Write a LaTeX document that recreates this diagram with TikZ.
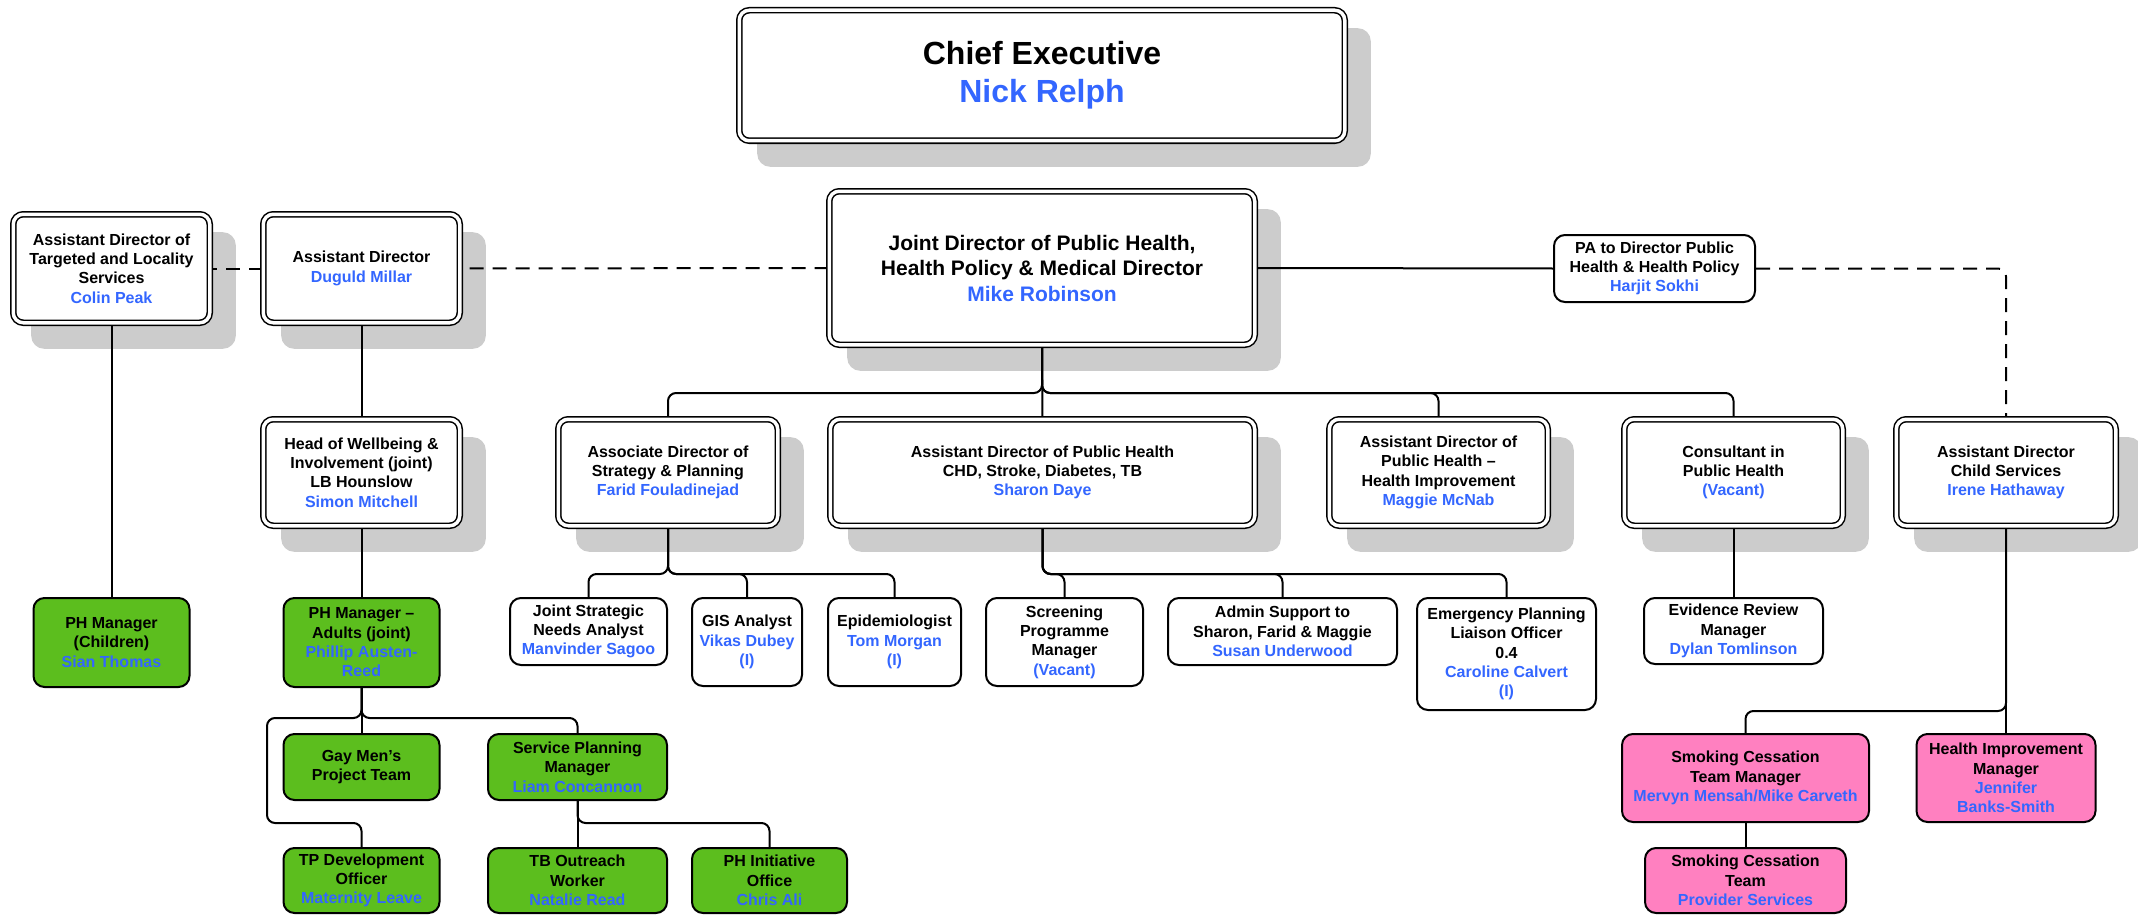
\documentclass[tikz,border=0pt]{standalone}
\usepackage{fontspec}
\setmainfont{Liberation Sans}
\usetikzlibrary{calc}
\pgfdeclarelayer{shadowlayer}
\pgfdeclarelayer{connlayer}
\pgfsetlayers{shadowlayer,connlayer,main}
\definecolor{nameblue}{RGB}{51,102,255}
\definecolor{boxgreen}{RGB}{92,190,30}
\definecolor{boxpink}{RGB}{255,128,192}
\definecolor{shadowgrey}{RGB}{204,204,204}
\newcommand\pname[1]{\textcolor{nameblue}{#1}}
\newcommand\shadowof[1]{\fill[shadowgrey, rounded corners=13pt] ([xshift=18.7pt,yshift=-18.7pt]#1.north west) rectangle ([xshift=25.3pt,yshift=-25.3pt]#1.south east);}
\tikzset{
  txt/.style={font=\fontsize{16}{19.3}\selectfont\bfseries, align=center, inner sep=0pt},
  dbox/.style={txt, draw, line width=1.5pt, double=white, double distance=3.5pt, rounded corners=10pt, fill=white},
  sbox/.style={txt, draw, line width=2pt, rounded corners=11pt, fill=white},
  gbox/.style={sbox, fill=boxgreen},
  pbox/.style={sbox, fill=boxpink},
  conn/.style={draw, line width=2pt, rounded corners=8pt},
  dconn/.style={conn, dash pattern=on 14pt off 9pt},
}
\begin{document}
\begin{tikzpicture}[x=1pt,y=-1pt]
\useasboundingbox (0,0) rectangle (2138,915);
% double-bordered boxes
\node[dbox, minimum width=605.5pt, minimum height=130.5pt, font=\fontsize{32}{38}\selectfont\bfseries] (ce) at (1042,75.5) {Chief Executive\\\pname{Nick Relph}};
\node[dbox, minimum width=425.5pt, minimum height=153.5pt, font=\fontsize{21}{25.5}\selectfont\bfseries] (jd) at (1042,268) {Joint Director of Public Health,\\Health Policy \& Medical Director\\\pname{Mike Robinson}};
\node[dbox, minimum width=196.5pt, minimum height=108.5pt] (cp) at (111.5,268.5) {Assistant Director of\\Targeted and Locality\\Services\\\pname{Colin Peak}};
\node[dbox, minimum width=196.5pt, minimum height=108.5pt] (dm) at (361.5,268.5) {Assistant Director\\\pname{Duguld Millar}};
\node[dbox, minimum width=196.5pt, minimum height=106.5pt] (hw) at (361.5,472.5) {Head of Wellbeing \&\\Involvement (joint)\\LB Hounslow\\\pname{Simon Mitchell}};
\node[dbox, minimum width=219.5pt, minimum height=106.5pt] (as) at (668,472.5) {Associate Director of\\Strategy \& Planning\\\pname{Farid Fouladinejad}};
\node[dbox, minimum width=424.5pt, minimum height=106.5pt] (sd) at (1042.5,472.5) {Assistant Director of Public Health\\CHD, Stroke, Diabetes, TB\\\pname{Sharon Daye}};
\node[dbox, minimum width=218.5pt, minimum height=106.5pt] (mm) at (1438.5,472.5) {Assistant Director of\\Public Health –\\Health Improvement\\\pname{Maggie McNab}};
\node[dbox, minimum width=218.5pt, minimum height=106.5pt] (co) at (1733.5,472.5) {Consultant in\\Public Health\\\pname{(Vacant)}};
\node[dbox, minimum width=219.5pt, minimum height=106.5pt] (ih) at (2006,472.5) {Assistant Director\\Child Services\\\pname{Irene Hathaway}};
% single white boxes
\node[sbox, minimum width=201pt, minimum height=67pt] (pa) at (1654.5,268.5) {PA to Director Public\\Health \& Health Policy\\\pname{Harjit Sokhi}};
\node[sbox, minimum width=157pt, minimum height=67pt] (jsna) at (588.5,631.5) {Joint Strategic\\Needs Analyst\\\pname{Manvinder Sagoo}};
\node[sbox, minimum width=110pt, minimum height=88pt] (gis) at (747,642) {GIS Analyst\\\pname{Vikas Dubey}\\\pname{(I)}};
\node[sbox, minimum width=133pt, minimum height=88pt] (epi) at (894.5,642) {Epidemiologist\\\pname{Tom Morgan}\\\pname{(I)}};
\node[sbox, minimum width=157pt, minimum height=88pt] (scr) at (1064.5,642) {Screening\\Programme\\Manager\\\pname{(Vacant)}};
\node[sbox, minimum width=229pt, minimum height=67pt] (adm) at (1282.5,631.5) {Admin Support to\\Sharon, Farid \& Maggie\\\pname{Susan Underwood}};
\node[sbox, minimum width=179pt, minimum height=112pt] (epl) at (1506.5,654) {Emergency Planning\\Liaison Officer\\0.4\\\pname{Caroline Calvert}\\\pname{(I)}};
\node[sbox, minimum width=179pt, minimum height=66pt] (erm) at (1733.5,631) {Evidence Review\\Manager\\\pname{Dylan Tomlinson}};
% green boxes
\node[gbox, minimum width=156pt, minimum height=89pt] (phc) at (111.5,642.5) {PH Manager\\(Children)\\\pname{Sian Thomas}};
\node[gbox, minimum width=156pt, minimum height=89pt] (pha) at (361.5,642.5) {PH Manager –\\Adults (joint)\\\pname{Phillip Austen-}\\\pname{Reed}};
\node[gbox, minimum width=156pt, minimum height=66pt] (gm) at (361.5,767) {Gay Men’s\\Project Team};
\node[gbox, minimum width=179pt, minimum height=66pt] (spm) at (577.5,767) {Service Planning\\Manager\\\pname{Liam Concannon}};
\node[gbox, minimum width=156pt, minimum height=65pt] (tpd) at (361.5,880.5) {TP Development\\Officer\\\pname{Maternity Leave}};
\node[gbox, minimum width=179pt, minimum height=65pt] (tbo) at (577.5,880.5) {TB Outreach\\Worker\\\pname{Natalie Read}};
\node[gbox, minimum width=155pt, minimum height=65pt] (phi) at (769.5,880.5) {PH Initiative\\Office\\\pname{Chris Ali}};
% pink boxes
\node[pbox, minimum width=247pt, minimum height=88pt] (sctm) at (1745.5,778) {Smoking Cessation\\Team Manager\\\pname{Mervyn Mensah/Mike Carveth}};
\node[pbox, minimum width=179pt, minimum height=88pt] (him) at (2006,778) {Health Improvement\\Manager\\\pname{Jennifer}\\\pname{Banks-Smith}};
\node[pbox, minimum width=201pt, minimum height=65pt] (sct) at (1745.5,880.5) {Smoking Cessation\\Team\\\pname{Provider Services}};
% shadows
\begin{pgfonlayer}{shadowlayer}
\foreach \n in {ce,jd,cp,dm,hw,as,sd,mm,co,ih} {\shadowof{\n}}
\end{pgfonlayer}
% connectors
\begin{pgfonlayer}{connlayer}
\draw[dconn] (jd.west) -- (dm.east);
\draw[dconn] (dm.west) -- (cp.east);
\draw[conn] (jd.east) -- (pa.west);
\draw[dconn] (pa.east) -| (ih.north);
\draw[conn] (cp.south) -- (phc.north);
\draw[conn] (dm.south) -- (hw.north);
\draw[conn] (hw.south) -- (pha.north);
\foreach \c in {as,mm,co} {\draw[conn] (jd.south) -- (jd.south |- 0,393) -| (\c.north);}
\draw[conn] (jd.south) -- (sd.north);
\foreach \c in {jsna,gis,epi} {\draw[conn] (as.south) -- (as.south |- 0,574) -| (\c.north);}
\foreach \c in {scr,adm,epl} {\draw[conn] (sd.south) -- (sd.south |- 0,574) -| (\c.north);}
\draw[conn] (co.south) -- (erm.north);
\draw[conn] (ih.south) -- (him.north);
\draw[conn] (ih.south) -- (ih.south |- 0,711) -| (sctm.north);
\draw[conn] (sctm.south) -- (sct.north);
\draw[conn] (pha.south) -- (gm.north);
\draw[conn] (pha.south) -- (pha.south |- 0,718) -| (spm.north);
\draw[conn] (pha.south) -- (pha.south |- 0,718) -- (267,718) -- (267,823) -| (tpd.north);
\foreach \c in {tbo,phi} {\draw[conn] (spm.south) -- (spm.south |- 0,823) -| (\c.north);}
\end{pgfonlayer}
\end{tikzpicture}
\end{document}
